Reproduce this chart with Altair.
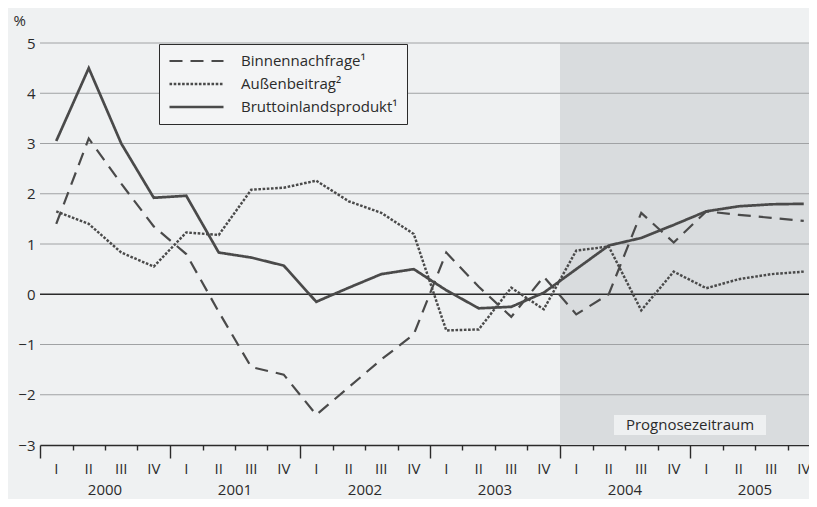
import altair as alt
import pandas as pd

# ---- data ----
quarters = ["I", "II", "III", "IV"]
years = ["2000", "2001", "2002", "2003", "2004", "2005"]
series_names = ["Binnennachfrage¹", "Außenbeitrag²", "Bruttoinlandsprodukt¹"]

binnen = [1.4, 3.1, 2.2, 1.35, 0.8, -0.35, -1.45, -1.6,
          -2.4, -1.85, -1.3, -0.8, 0.83, 0.15, -0.45, 0.35,
          -0.4, 0.0, 1.62, 1.03, 1.65, 1.58, 1.52, 1.46]
aussen = [1.65, 1.4, 0.83, 0.55, 1.23, 1.18, 2.08, 2.12,
          2.26, 1.85, 1.62, 1.2, -0.72, -0.7, 0.13, -0.3,
          0.87, 0.95, -0.32, 0.45, 0.12, 0.3, 0.4, 0.45]
bip = [3.05, 4.5, 3.0, 1.92, 1.96, 0.83, 0.73, 0.57,
       -0.15, 0.13, 0.4, 0.5, 0.08, -0.28, -0.25, 0.03,
       0.5, 0.97, 1.12, 1.38, 1.65, 1.75, 1.79, 1.8]

y_ticks = [-3, -2, -1, 0, 1, 2, 3, 4, 5]
forecast_start = 16          # quarter index of 2004 I
forecast_label = "Prognosezeitraum"
forecast_label_pos = [20, -2.6]

# ---- layout ----
W, H = 769, 402
QW = 32.5
XMAX = W / QW
FONT = "Open Sans"
INK = "#2b2b2b"
LINE = "#4a4a4a"

rows = []
for name, vals in zip(series_names, [binnen, aussen, bip]):
    for i, v in enumerate(vals):
        rows.append({"t": i + 0.5, "v": v, "s": name})
df = pd.DataFrame(rows)

x_scale = alt.Scale(domain=[0, XMAX], nice=False, zero=False)
y_scale = alt.Scale(domain=[-3, 5], nice=False, zero=False)

x_axis = alt.Axis(values=list(range(len(bip))), labels=False, title=None, grid=False,
                  domain=True, domainColor=INK, domainWidth=1.4,
                  tickColor=INK, tickWidth=1.4,
                  tickSize={"condition": {"test": "datum.value % 4 === 0", "value": 13},
                            "value": 5})
y_axis = alt.Axis(values=y_ticks, format="d", grid=False, domain=False, ticks=False,
                  labelFont=FONT, labelFontSize=15, labelColor=INK, labelPadding=5,
                  title="%", titleAngle=0, titleX=-27, titleY=-23, titleAlign="left",
                  titleBaseline="middle", titleFont=FONT, titleFontSize=15,
                  titleFontWeight="normal", titleColor=INK)


def X(field):
    return alt.X(field, scale=x_scale, axis=x_axis, title=None)


def Y(field):
    return alt.Y(field, scale=y_scale, axis=y_axis, title="%")


shade = alt.Chart(pd.DataFrame({"x0": [forecast_start], "x1": [len(bip)],
                                "y0": [y_ticks[0]], "y1": [y_ticks[-1]]})).mark_rect(
    color="#d9dcde", clip=True).encode(x=X("x0:Q"), x2="x1", y=Y("y0:Q"), y2="y1")

grid = alt.Chart(pd.DataFrame({"y": [v for v in y_ticks if v not in (-3, 0)]})).mark_rule(
    color="#a0a2a4", strokeWidth=1).encode(y=Y("y:Q"))

zero = alt.Chart(pd.DataFrame({"y": [0]})).mark_rule(
    color=INK, strokeWidth=1.6).encode(y=Y("y:Q"))

lab_df = pd.DataFrame({"x": [forecast_label_pos[0]], "y": [forecast_label_pos[1]],
                       "txt": [forecast_label]})
lab_box = alt.Chart(lab_df).mark_rect(width=152, height=20, color="#eef0f1").encode(
    x=X("x:Q"), y=Y("y:Q"))
lab_text = alt.Chart(lab_df).mark_text(font=FONT, fontSize=15, color=INK, baseline="middle").encode(
    x=X("x:Q"), y=Y("y:Q"), text="txt:N")

lines = alt.Chart(df).mark_line(color=LINE).encode(
    x=X("t:Q"),
    y=Y("v:Q"),
    strokeDash=alt.StrokeDash(
        "s:N",
        scale=alt.Scale(domain=series_names, range=[[13, 8], [2.6, 1.6], [1, 0]]),
        legend=alt.Legend(title=None, orient="none", legendX=119, legendY=1,
                          symbolType="stroke", symbolSize=2916, symbolStrokeWidth=2.2,
                          symbolStrokeColor=LINE, labelFont=FONT, labelFontSize=15,
                          labelColor=INK, labelOffset=16, padding=9, rowPadding=7,
                          clipHeight=16, fillColor="#f3f4f5", strokeColor=INK)),
    strokeWidth=alt.StrokeWidth("s:N", scale=alt.Scale(domain=series_names, range=[2.2, 2.7, 2.2]),
                                legend=None),
)

q_df = pd.DataFrame({"t": [i + 0.5 for i in range(len(bip))],
                     "q": [quarters[i % 4] for i in range(len(bip))]})
q_text = alt.Chart(q_df).mark_text(font=FONT, fontSize=15, color=INK, baseline="middle",
                                   y=H + 24).encode(x=X("t:Q"), text="q:N")

y_df = pd.DataFrame({"t": [4 * i + 2 for i in range(len(years))], "yr": years})
y_text = alt.Chart(y_df).mark_text(font=FONT, fontSize=15, color=INK, baseline="middle",
                                   y=H + 45).encode(x=X("t:Q"), text="yr:N")

chart = alt.layer(shade, grid, zero, lab_box, lab_text, lines, q_text, y_text).properties(
    width=W, height=H,
    padding={"left": 32, "top": 35, "right": 0, "bottom": 54},
    autosize=alt.AutoSizeParams(type="none"),
    background="#eff1f2",
).configure_view(strokeWidth=0)

chart.save("out.html", embed_options={"renderer": "svg", "actions": False})
